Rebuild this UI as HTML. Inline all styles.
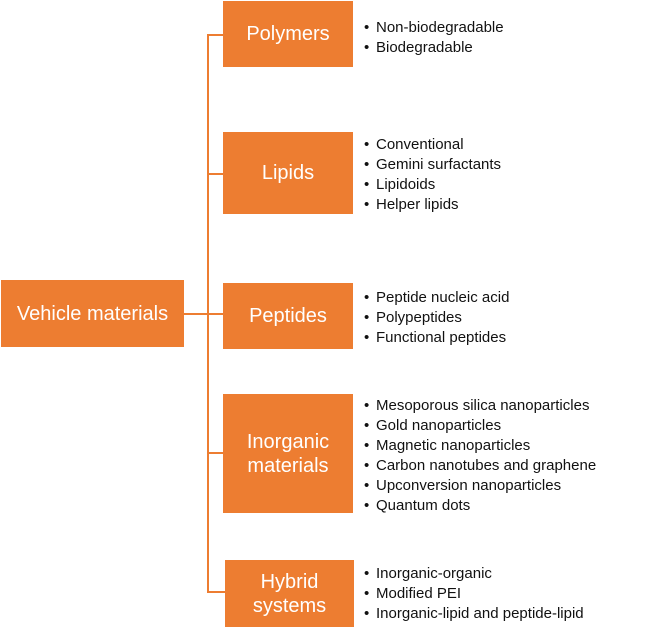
<!DOCTYPE html>
<html><head><style>
body{margin:0;width:649px;height:634px;background:#fff;position:relative;font-family:"Liberation Sans",sans-serif;overflow:hidden}
.b{position:absolute;background:#ed7d31;color:#fff;font-size:20px;display:flex;align-items:center;justify-content:center;text-align:center;line-height:24px}
.l{position:absolute;background:#ed7d31}
.t{position:absolute;left:364px;font-size:15px;color:#111;line-height:20px;white-space:nowrap}
.t div:before{content:"•";display:inline-block;width:12px}
</style></head><body>
<div class="l" style="left:207px;top:34px;width:2px;height:559px"></div>
<div class="l" style="left:207px;top:34px;width:16px;height:2px"></div>
<div class="l" style="left:207px;top:173px;width:16px;height:2px"></div>
<div class="l" style="left:184px;top:313px;width:39px;height:2px"></div>
<div class="l" style="left:207px;top:452px;width:16px;height:2px"></div>
<div class="l" style="left:207px;top:591px;width:18px;height:2px"></div>
<div class="b" style="left:1px;top:280px;width:183px;height:67px">Vehicle materials</div>
<div class="b" style="left:223px;top:1px;width:130px;height:66px">Polymers</div>
<div class="b" style="left:223px;top:132px;width:130px;height:82px">Lipids</div>
<div class="b" style="left:223px;top:283px;width:130px;height:66px">Peptides</div>
<div class="b" style="left:223px;top:394px;width:130px;height:119px">Inorganic<br>materials</div>
<div class="b" style="left:225px;top:560px;width:129px;height:67px">Hybrid<br>systems</div>
<div class="t" style="top:18px"><div>Non-biodegradable</div><div>Biodegradable</div></div>
<div class="t" style="top:135px"><div>Conventional</div><div>Gemini surfactants</div><div>Lipidoids</div><div>Helper lipids</div></div>
<div class="t" style="top:288px"><div>Peptide nucleic acid</div><div>Polypeptides</div><div>Functional peptides</div></div>
<div class="t" style="top:396px"><div>Mesoporous silica nanoparticles</div><div>Gold nanoparticles</div><div>Magnetic nanoparticles</div><div>Carbon nanotubes and graphene</div><div>Upconversion nanoparticles</div><div>Quantum dots</div></div>
<div class="t" style="top:564px"><div>Inorganic-organic</div><div>Modified PEI</div><div>Inorganic-lipid and peptide-lipid</div></div>
</body></html>
